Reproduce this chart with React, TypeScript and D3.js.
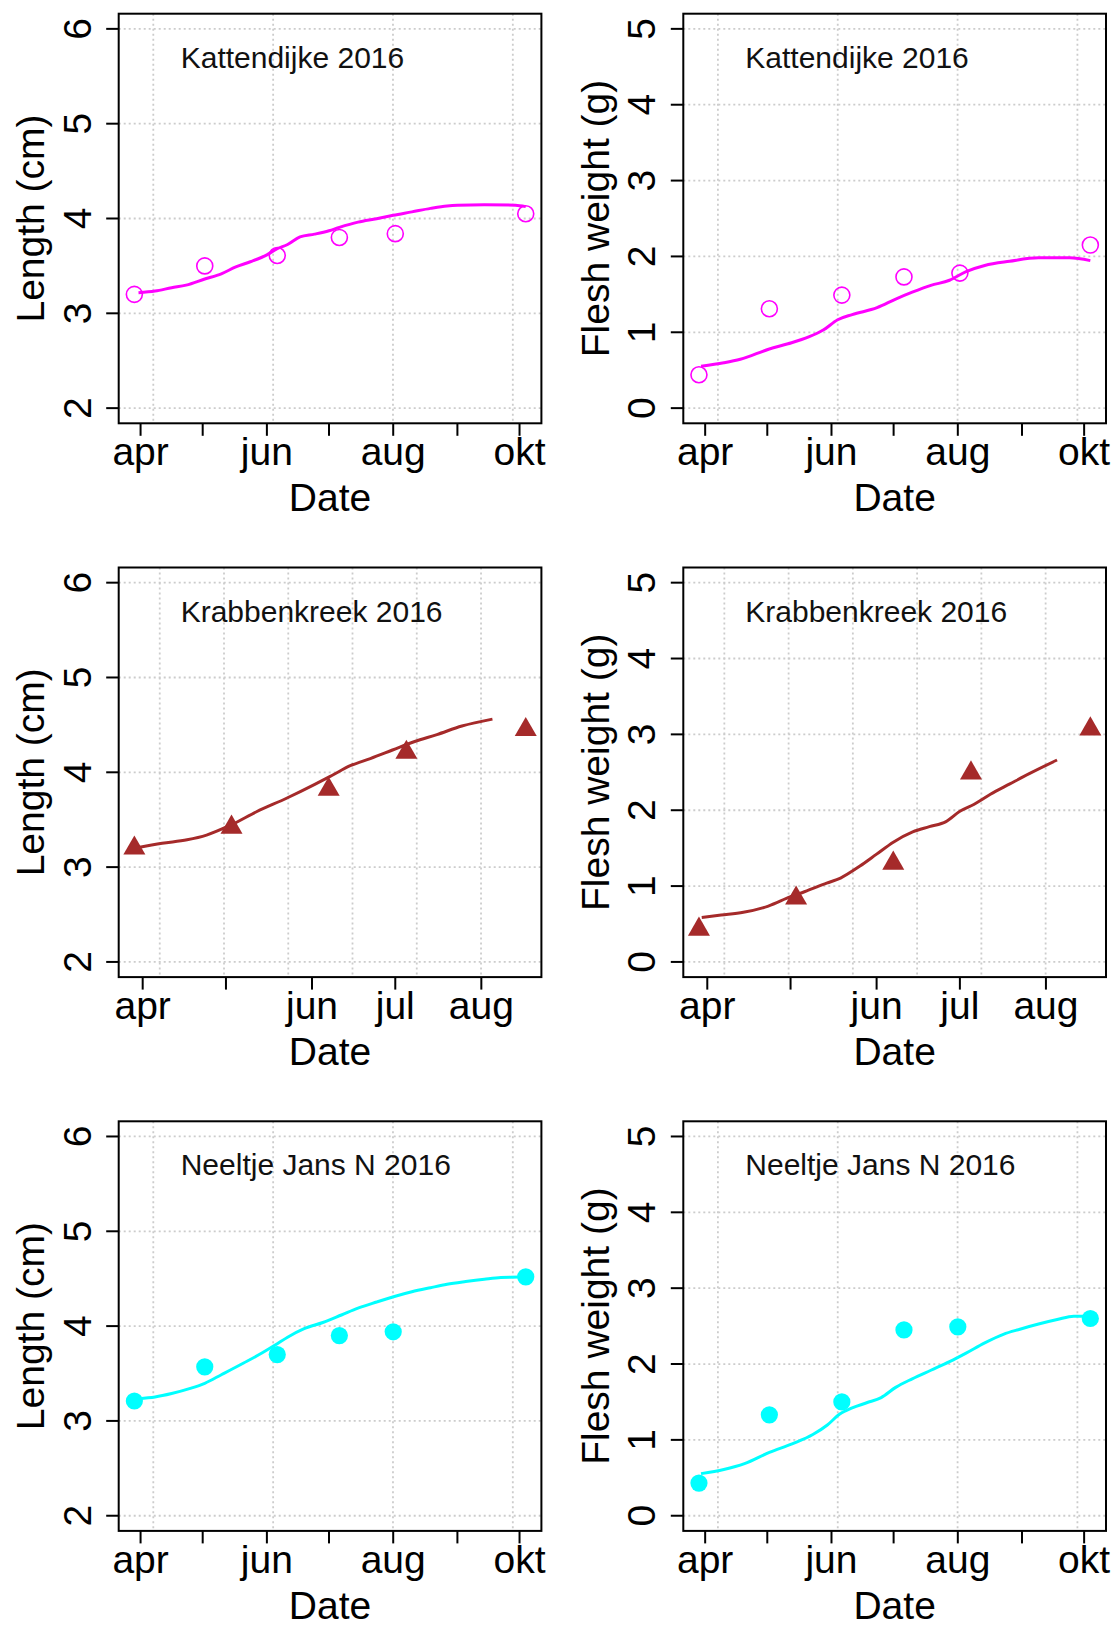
import React from "react";
import * as d3 from "d3";

// ---------- categories / styling keys ----------
const siteNames = ["Kattendijke 2016", "Krabbenkreek 2016", "Neeltje Jans N 2016"];
const siteColors = ["#FF00FF", "#A52A2A", "#00FFFF"];
const siteMarkers = ["open", "triangle", "filled"];

// ---------- axis ticks ----------
const lengthTicks = [2, 3, 4, 5, 6];
const weightTicks = [0, 1, 2, 3, 4, 5];
const lengthLimits = [2, 6];
const weightLimits = [0, 5];

const longMonthTicks = ["2016-04-01", "2016-05-01", "2016-06-01", "2016-07-01", "2016-08-01", "2016-09-01", "2016-10-01"];
const longMonthLabels = ["apr", "", "jun", "", "aug", "", "okt"];
const shortMonthTicks = ["2016-04-01", "2016-05-01", "2016-06-01", "2016-07-01", "2016-08-01"];
const shortMonthLabels = ["apr", "", "jun", "jul", "aug"];

// ---------- Kattendijke ----------
const kattDates = ["2016-03-29", "2016-05-02", "2016-06-06", "2016-07-06", "2016-08-02", "2016-10-04"];
const kattLength = [3.2, 3.5, 3.61, 3.8, 3.84, 4.05];
const kattWeight = [0.44, 1.31, 1.49, 1.73, 1.78, 2.15];
const kattLengthFitDates = ["2016-03-31", "2016-04-08", "2016-04-16", "2016-04-23", "2016-05-02", "2016-05-10", "2016-05-17", "2016-05-24", "2016-06-01", "2016-06-06", "2016-06-11", "2016-06-17", "2016-06-24", "2016-07-01", "2016-07-06", "2016-07-15", "2016-07-24", "2016-08-01", "2016-08-10", "2016-08-19", "2016-08-27", "2016-09-01", "2016-09-14", "2016-09-29", "2016-10-04"];
const kattLengthFit = [3.217, 3.235, 3.27, 3.297, 3.362, 3.417, 3.49, 3.544, 3.617, 3.682, 3.726, 3.806, 3.835, 3.871, 3.907, 3.962, 3.998, 4.034, 4.07, 4.107, 4.133, 4.14, 4.144, 4.14, 4.125];
const kattWeightFitDates = ["2016-03-30", "2016-04-10", "2016-04-18", "2016-05-02", "2016-05-11", "2016-05-21", "2016-05-28", "2016-06-04", "2016-06-11", "2016-06-23", "2016-07-02", "2016-07-10", "2016-07-19", "2016-07-28", "2016-08-05", "2016-08-14", "2016-08-26", "2016-09-09", "2016-09-24", "2016-10-04"];
const kattWeightFit = [0.553, 0.598, 0.644, 0.78, 0.848, 0.938, 1.029, 1.165, 1.233, 1.324, 1.437, 1.528, 1.618, 1.686, 1.8, 1.881, 1.936, 1.981, 1.981, 1.945];

// ---------- Krabbenkreek ----------
const krabDates = ["2016-03-29", "2016-05-03", "2016-06-07", "2016-07-05", "2016-08-17"];
const krabLength = [3.2, 3.42, 3.82, 4.21, 4.45];
const krabWeight = [0.43, 0.84, 1.3, 2.49, 3.07];
const krabLengthFitDates = ["2016-03-30", "2016-04-08", "2016-04-17", "2016-04-24", "2016-05-03", "2016-05-12", "2016-05-23", "2016-06-02", "2016-06-08", "2016-06-15", "2016-06-22", "2016-06-30", "2016-07-08", "2016-07-16", "2016-07-25", "2016-08-05"];
const krabLengthFit = [3.204, 3.251, 3.288, 3.338, 3.447, 3.584, 3.729, 3.873, 3.964, 4.072, 4.145, 4.235, 4.325, 4.398, 4.488, 4.561];
const krabWeightFitDates = ["2016-03-30", "2016-04-06", "2016-04-14", "2016-04-23", "2016-05-01", "2016-05-06", "2016-05-14", "2016-05-19", "2016-05-26", "2016-06-01", "2016-06-07", "2016-06-14", "2016-06-20", "2016-06-26", "2016-07-01", "2016-07-06", "2016-07-12", "2016-07-19", "2016-07-26", "2016-08-05"];
const krabWeightFit = [0.587, 0.618, 0.654, 0.736, 0.86, 0.925, 1.038, 1.106, 1.264, 1.421, 1.579, 1.715, 1.783, 1.85, 1.986, 2.076, 2.211, 2.347, 2.482, 2.662];

// ---------- Neeltje Jans N ----------
const neelDates = ["2016-03-29", "2016-05-02", "2016-06-06", "2016-07-06", "2016-08-01", "2016-10-04"];
const neelLength = [3.21, 3.57, 3.7, 3.9, 3.94, 4.52];
const neelWeight = [0.43, 1.33, 1.5, 2.45, 2.49, 2.6];
const neelLengthFitDates = ["2016-03-31", "2016-04-08", "2016-04-16", "2016-04-25", "2016-05-02", "2016-05-10", "2016-05-21", "2016-05-30", "2016-06-05", "2016-06-11", "2016-06-19", "2016-06-28", "2016-07-07", "2016-07-15", "2016-07-24", "2016-08-02", "2016-08-10", "2016-08-19", "2016-08-27", "2016-09-05", "2016-09-14", "2016-09-22", "2016-10-01", "2016-10-04"];
const neelLengthFit = [3.235, 3.253, 3.289, 3.343, 3.397, 3.487, 3.613, 3.721, 3.8, 3.883, 3.973, 4.038, 4.117, 4.189, 4.254, 4.315, 4.362, 4.405, 4.441, 4.47, 4.495, 4.513, 4.517, 4.52];
const neelWeightFitDates = ["2016-03-30", "2016-04-10", "2016-04-20", "2016-05-02", "2016-05-13", "2016-05-23", "2016-05-30", "2016-06-05", "2016-06-11", "2016-06-18", "2016-06-25", "2016-07-02", "2016-07-10", "2016-07-19", "2016-07-28", "2016-08-05", "2016-08-14", "2016-08-23", "2016-08-31", "2016-09-09", "2016-09-18", "2016-09-26", "2016-10-04"];
const neelWeightFit = [0.555, 0.609, 0.686, 0.835, 0.948, 1.07, 1.196, 1.34, 1.422, 1.489, 1.557, 1.692, 1.805, 1.918, 2.031, 2.144, 2.279, 2.392, 2.459, 2.527, 2.586, 2.631, 2.631];

// ---------- layout ----------
const W = 1116;
const H = 1627;
const colLeft = [118.7, 683.3];
const rowTop = [13.7, 567.5, 1121.3];
const boxW = 422.7;
const boxH = 409.6;
const FONT = "'Liberation Sans', Arial, Helvetica, sans-serif";

const parse = (s: string) => new Date(s + "T00:00:00Z");

type PanelProps = {
  left: number;
  top: number;
  title: string;
  color: string;
  marker: string;
  dates: string[];
  values: number[];
  fitDates: string[];
  fitValues: number[];
  yTicks: number[];
  yLim: number[];
  yLabel: string;
  xTicks: string[];
  xLabels: string[];
};

function Panel(p: PanelProps) {
  const pts = p.dates.map((d, i) => ({ d: parse(d), v: p.values[i] }));
  const fit = p.fitDates.map((d, i) => ({ d: parse(d), v: p.fitValues[i] }));
  const [t0, t1] = d3.extent(pts, (q) => q.d.getTime()) as [number, number];
  const ext = (t1 - t0) * 0.04;
  const x = d3.scaleUtc().domain([new Date(t0 - ext), new Date(t1 + ext)]).range([p.left, p.left + boxW]);
  const yExt = (p.yLim[1] - p.yLim[0]) * 0.04;
  const y = d3.scaleLinear().domain([p.yLim[0] - yExt, p.yLim[1] + yExt]).range([p.top + boxH, p.top]);

  // vertical grid lines at pretty values of seconds since epoch (like R's grid())
  const s0 = (t0 - ext) / 1000;
  const s1 = (t1 + ext) / 1000;
  const gridX = d3.ticks(s0, s1, 5).map((s) => new Date(s * 1000));

  const line = d3
    .line<{ d: Date; v: number }>()
    .x((q) => x(q.d))
    .y((q) => y(q.v))
    .curve(d3.curveMonotoneX);

  const bottom = p.top + boxH;
  const right = p.left + boxW;
  const tickLen = 12.5;
  const gridStyle = { stroke: "#cccccc", strokeWidth: 1.8, strokeDasharray: "2 3" };

  const marker = (q: { d: Date; v: number }, i: number) => {
    const cx = x(q.d);
    const cy = y(q.v);
    if (p.marker === "open") {
      return <circle key={i} cx={cx} cy={cy} r={8} fill="none" stroke={p.color} strokeWidth={1.6} />;
    }
    if (p.marker === "filled") {
      return <circle key={i} cx={cx} cy={cy} r={8.6} fill={p.color} />;
    }
    const s = 22;
    const h = (s * Math.sqrt(3)) / 2;
    const pts2 = [
      [cx, cy - (2 * h) / 3],
      [cx + s / 2, cy + h / 3],
      [cx - s / 2, cy + h / 3],
    ];
    return <polygon key={i} points={pts2.map((a) => a.join(",")).join(" ")} fill={p.color} />;
  };

  return (
    <g>
      {/* grid */}
      {gridX.map((g, i) => (
        <line key={"gx" + i} x1={x(g)} x2={x(g)} y1={p.top} y2={bottom} style={gridStyle} />
      ))}
      {p.yTicks.map((t) => (
        <line key={"gy" + t} x1={p.left} x2={right} y1={y(t)} y2={y(t)} style={gridStyle} />
      ))}
      {/* fitted line */}
      <path d={line(fit) || ""} fill="none" stroke={p.color} strokeWidth={3} strokeLinejoin="round" strokeLinecap="butt" />
      {/* points */}
      {pts.map(marker)}
      {/* box */}
      <rect x={p.left} y={p.top} width={boxW} height={boxH} fill="none" stroke="#000" strokeWidth={2} />
      {/* y axis */}
      {p.yTicks.map((t) => (
        <g key={"yt" + t}>
          <line x1={p.left - tickLen} x2={p.left} y1={y(t)} y2={y(t)} stroke="#000" strokeWidth={2} />
          <text
            x={p.left - 28}
            y={y(t)}
            transform={`rotate(-90, ${p.left - 28}, ${y(t)})`}
            textAnchor="middle"
            fontFamily={FONT}
            fontSize={39}
            fill="#000"
          >
            {t}
          </text>
        </g>
      ))}
      <text
        x={p.left - 74.5}
        y={p.top + boxH / 2}
        transform={`rotate(-90, ${p.left - 74.5}, ${p.top + boxH / 2})`}
        textAnchor="middle"
        fontFamily={FONT}
        fontSize={39}
        fill="#000"
      >
        {p.yLabel}
      </text>
      {/* x axis */}
      {p.xTicks.map((t, i) => {
        const xx = x(parse(t));
        return (
          <g key={"xt" + i}>
            <line x1={xx} x2={xx} y1={bottom} y2={bottom + tickLen} stroke="#000" strokeWidth={2} />
            {p.xLabels[i] ? (
              <text x={xx} y={bottom + 42} textAnchor="middle" fontFamily={FONT} fontSize={39} fill="#000">
                {p.xLabels[i]}
              </text>
            ) : null}
          </g>
        );
      })}
      <text x={p.left + boxW / 2} y={bottom + 88} textAnchor="middle" fontFamily={FONT} fontSize={39} fill="#000">
        Date
      </text>
      {/* site title */}
      <text x={p.left + 62} y={p.top + 54} fontFamily={FONT} fontSize={30} fill="#111">
        {p.title}
      </text>
    </g>
  );
}

export default function App() {
  const sites = [
    { dates: kattDates, L: kattLength, Wt: kattWeight, LfD: kattLengthFitDates, Lf: kattLengthFit, WfD: kattWeightFitDates, Wf: kattWeightFit, xt: longMonthTicks, xl: longMonthLabels },
    { dates: krabDates, L: krabLength, Wt: krabWeight, LfD: krabLengthFitDates, Lf: krabLengthFit, WfD: krabWeightFitDates, Wf: krabWeightFit, xt: shortMonthTicks, xl: shortMonthLabels },
    { dates: neelDates, L: neelLength, Wt: neelWeight, LfD: neelLengthFitDates, Lf: neelLengthFit, WfD: neelWeightFitDates, Wf: neelWeightFit, xt: longMonthTicks, xl: longMonthLabels },
  ];
  return (
    <svg
      width={W}
      height={H}
      viewBox={`0 0 ${W} ${H}`}
      style={{ position: "absolute", left: 0, top: 0, background: "#fff" }}
    >
      <rect x={0} y={0} width={W} height={H} fill="#fff" />
      {sites.map((s, r) => (
        <g key={r}>
          <Panel
            left={colLeft[0]}
            top={rowTop[r]}
            title={siteNames[r]}
            color={siteColors[r]}
            marker={siteMarkers[r]}
            dates={s.dates}
            values={s.L}
            fitDates={s.LfD}
            fitValues={s.Lf}
            yTicks={lengthTicks}
            yLim={lengthLimits}
            yLabel="Length (cm)"
            xTicks={s.xt}
            xLabels={s.xl}
          />
          <Panel
            left={colLeft[1]}
            top={rowTop[r]}
            title={siteNames[r]}
            color={siteColors[r]}
            marker={siteMarkers[r]}
            dates={s.dates}
            values={s.Wt}
            fitDates={s.WfD}
            fitValues={s.Wf}
            yTicks={weightTicks}
            yLim={weightLimits}
            yLabel="Flesh weight (g)"
            xTicks={s.xt}
            xLabels={s.xl}
          />
        </g>
      ))}
    </svg>
  );
}
